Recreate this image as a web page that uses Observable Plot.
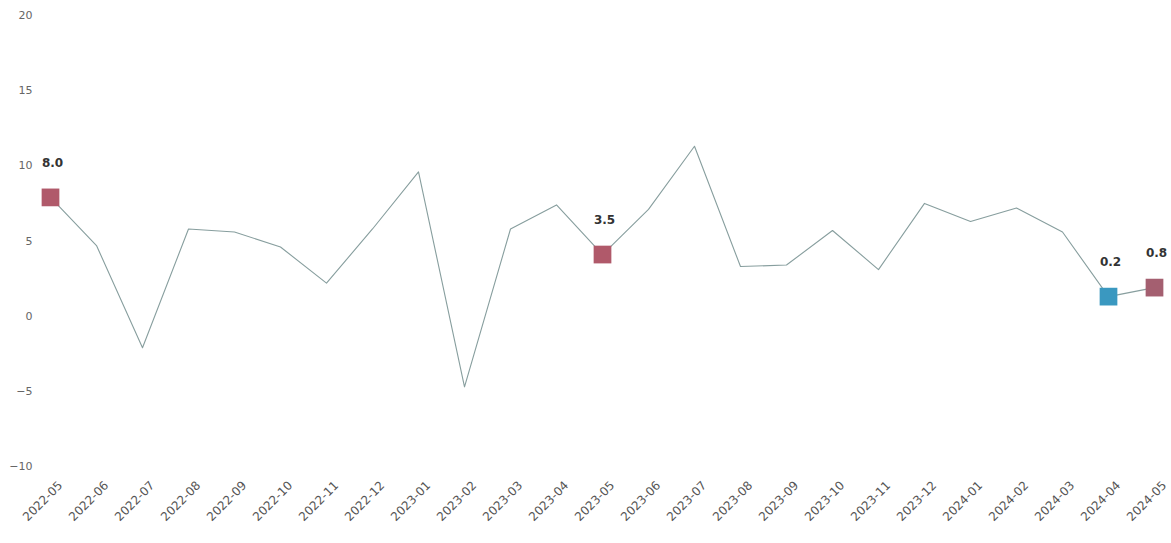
<!DOCTYPE html>
<html>
<head>
<meta charset="utf-8">
<script src="https://cdn.jsdelivr.net/npm/d3@7"></script>
<script src="https://cdn.jsdelivr.net/npm/@observablehq/plot@0.6"></script>
<style>
  html, body { margin: 0; padding: 0; background: #fff; }
  #chart svg { display: block; }
</style>
</head>
<body>
<div id="chart"></div>
<script>
const months = ["2022-05","2022-06","2022-07","2022-08","2022-09","2022-10","2022-11","2022-12",
  "2023-01","2023-02","2023-03","2023-04","2023-05","2023-06","2023-07","2023-08","2023-09",
  "2023-10","2023-11","2023-12","2024-01","2024-02","2024-03","2024-04","2024-05"];
const values = [7.9, 4.7, -2.1, 5.8, 5.6, 4.6, 2.2, 5.8, 9.6, -4.7, 5.8, 7.4, 4.1, 7.1, 11.3, 3.3, 3.4,
  5.7, 3.1, 7.5, 6.3, 7.2, 5.6, 1.3, 1.9];
const yTicks = [-10, -5, 0, 5, 10, 15, 20];

const markMonths = ["2022-05", "2023-05", "2024-04", "2024-05"];
const markLabels = ["8.0", "3.5", "0.2", "0.8"];
const markColors = ["#b0596a", "#b0596a", "#3a98c0", "#a45f70"];

const data = months.map((m, i) => ({month: m, value: values[i]}));
const marks = markMonths.map((m, i) => ({
  month: m,
  value: values[months.indexOf(m)],
  label: markLabels[i],
  color: markColors[i]
}));

const chart = Plot.plot({
  width: 1171,
  height: 543,
  marginTop: 15,
  marginBottom: 77,
  marginLeft: 38,
  marginRight: 6,
  style: {fontFamily: "DejaVu Sans, sans-serif", background: "#fff"},
  x: {type: "point", domain: months, padding: 0},
  y: {domain: [-10, 20]},
  marks: [
    Plot.axisY({ticks: yTicks, tickSize: 0, tickPadding: 6, fontSize: 11, fill: "#666", label: null}),
    Plot.axisX({tickSize: 0, tickRotate: -45, tickPadding: 17, dx: 10, fontSize: 12, fill: "#555", label: null}),
    Plot.line(data, {x: "month", y: "value", stroke: "#879e9e", strokeWidth: 1.1}),
    Plot.dot(marks, {x: "month", y: "value", symbol: "square", r: 10, fill: "color", stroke: "none"}),
    Plot.text(marks, {x: "month", y: "value", text: "label", dy: -34, dx: 2, fontSize: 12, fontWeight: "bold", fill: "#333"})
  ]
});
document.getElementById("chart").appendChild(chart);
</script>
</body>
</html>
